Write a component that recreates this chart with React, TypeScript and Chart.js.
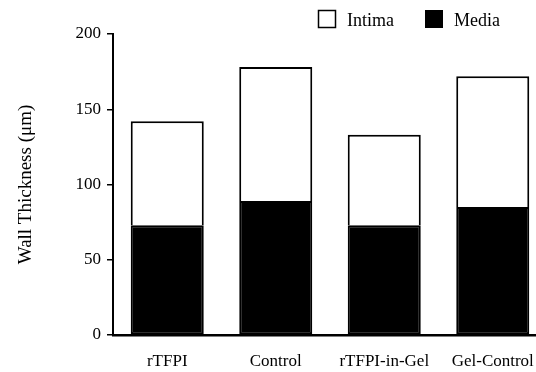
import React, { useEffect, useRef } from "react";
import { Chart, registerables } from "chart.js";

Chart.register(...registerables);

const categories = ["rTFPI", "Control", "rTFPI-in-Gel", "Gel-Control"];
const mediaValues = [73, 89, 73, 85];
const intimaValues = [69, 89, 60, 87];
const yTickValues = [0, 50, 100, 150, 200];
const yTitle = "Wall Thickness (μm)";
const legendNames = ["Intima", "Media"];

const FONT = "'Liberation Serif', 'Times New Roman', serif";

const legendPlugin = {
  id: "customLegend",
  afterDraw(chart: any) {
    const ctx = chart.ctx;
    ctx.save();
    ctx.font = `18px ${FONT}`;
    ctx.textBaseline = "middle";
    ctx.textAlign = "left";
    // Intima (open box)
    ctx.lineWidth = 1.5;
    ctx.strokeStyle = "#000";
    ctx.fillStyle = "#fff";
    ctx.fillRect(318.5, 10.5, 17, 17);
    ctx.strokeRect(318.5, 10.5, 17, 17);
    ctx.fillStyle = "#000";
    ctx.fillText(legendNames[0], 347, 21);
    // Media (filled box)
    ctx.fillRect(425, 10, 18, 18);
    ctx.fillText(legendNames[1], 454, 21);
    ctx.restore();
  },
};

export default function App() {
  const canvasRef = useRef<HTMLCanvasElement | null>(null);

  useEffect(() => {
    if (!canvasRef.current) return;
    const chart = new Chart(canvasRef.current, {
      type: "bar",
      data: {
        labels: categories,
        datasets: [
          {
            label: legendNames[1],
            data: mediaValues,
            backgroundColor: "#000",
            borderColor: "#000",
            borderWidth: 2,
            borderSkipped: false,
          },
          {
            label: legendNames[0],
            data: intimaValues,
            backgroundColor: "#fff",
            borderColor: "#000",
            borderWidth: 2,
            borderSkipped: "start",
          },
        ],
      },
      options: {
        animation: false,
        responsive: false,
        devicePixelRatio: 1,
        layout: { padding: { top: 34, right: 33, bottom: 0, left: 0 } },
        datasets: {
          bar: { categoryPercentage: 0.673, barPercentage: 1 },
        },
        plugins: {
          legend: { display: false },
          tooltip: { enabled: false },
        },
        scales: {
          x: {
            stacked: true,
            grid: { display: false, drawTicks: false },
            border: { display: true, color: "#000", width: 2.5 },
            ticks: {
              color: "#000",
              font: { family: FONT, size: 17 },
              padding: 16,
              maxRotation: 0,
              autoSkip: false,
            },
            afterFit: (scale: any) => {
              scale.height = 37;
            },
          },
          y: {
            stacked: true,
            min: 0,
            max: 200,
            afterBuildTicks: (scale: any) => {
              scale.ticks = yTickValues.map((v) => ({ value: v }));
            },
            grid: {
              display: true,
              drawOnChartArea: false,
              drawTicks: true,
              tickLength: 6,
              color: "#000",
              lineWidth: 1.5,
            },
            border: { display: true, color: "#000", width: 2 },
            ticks: {
              color: "#000",
              font: { family: FONT, size: 17 },
              padding: 6,
            },
            title: {
              display: true,
              text: yTitle,
              color: "#000",
              font: { family: FONT, size: 19 },
              padding: { top: 15, bottom: 0 },
            },
            afterFit: (scale: any) => {
              scale.width = 113;
            },
          },
        },
      },
      plugins: [legendPlugin],
    });
    return () => chart.destroy();
  }, []);

  return (
    <div
      style={{
        position: "absolute",
        left: 0,
        top: 0,
        width: 536,
        height: 372,
        overflow: "hidden",
        background: "#fff",
      }}
    >
      <canvas
        ref={canvasRef}
        width={580}
        height={372}
        style={{ display: "block", width: 580, height: 372 }}
      />
    </div>
  );
}
